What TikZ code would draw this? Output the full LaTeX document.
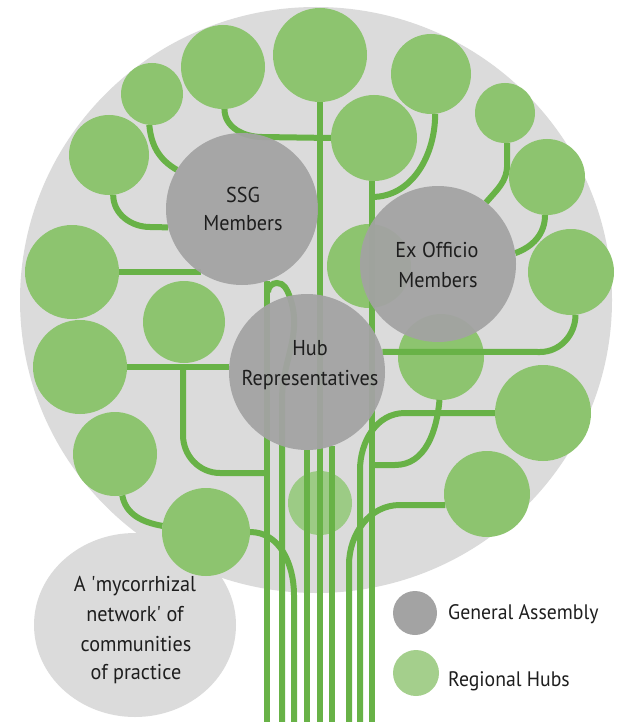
\documentclass[tikz,border=0pt]{standalone}
\usepackage{fontspec}
\setmainfont{PT Sans}
\newfontfamily\lblfont{PT Sans}[FakeStretch=0.94]
\definecolor{bgG}{HTML}{DBDBDB}
\definecolor{hubG}{HTML}{8DC46F}
\definecolor{hubL}{HTML}{9CCB85}
\definecolor{lineG}{HTML}{68B247}
\definecolor{gaG}{HTML}{A3A3A3}
\definecolor{legG}{HTML}{A4CF8C}
\definecolor{txt}{HTML}{1E1E1E}
\pgfdeclarelayer{bglayer}
\pgfdeclarelayer{stemlayer}
\pgfsetlayers{bglayer,stemlayer,main}
\begin{document}
\begin{tikzpicture}[x=1pt,y=-1pt,
  rh/.style={circle, fill=hubG, inner sep=0pt, outer sep=0pt, minimum size=#1},
  ga/.style={circle, fill=gaG, fill opacity=0.94, inner sep=0pt, outer sep=0pt, minimum size=#1},
  stem/.style={draw=lineG, line width=6pt},
  txtl/.style={text=txt, inner sep=0pt, anchor=base, font=\lblfont\fontsize{21.5}{24}\selectfont},
  lgl/.style={text=txt, inner sep=0pt, anchor=base west, font=\lblfont\fontsize{21}{24}\selectfont}]
\useasboundingbox (0,0) rectangle (616,722);
\clip (0,0) rectangle (616,722);
\coordinate (bot) at (0,735);
\begin{pgfonlayer}{bglayer}
\fill[bgG] (316,300) ellipse [x radius=296, y radius=293];
\fill[bgG] (135,625) ellipse [x radius=101, y radius=92];
\node[rh=86pt] (g16) at (441,357) {};
\node[rh=64pt, fill=hubL] (g19) at (320,503) {};
\node[rh=84pt] (g15) at (369,266) {};
\end{pgfonlayer}
% regional hub circles
\node[rh=62pt] (g1) at (152,94) {};
\node[rh=84pt] (g2) at (223,67) {};
\node[rh=80pt] (g3) at (109,155) {};
\node[rh=94pt] (g4) at (72,272) {};
\node[rh=82pt] (g5) at (184,322) {};
\node[rh=94pt] (g6) at (80,367) {};
\node[rh=84pt] (g7) at (115,454) {};
\node[rh=88pt] (g8) at (206,532) {};
\node[rh=94pt] (g9) at (320,55) {};
\node[rh=86pt] (g10) at (374,138) {};
\node[rh=80pt] (g11) at (431,74) {};
\node[rh=60pt] (g12) at (505,113) {};
\node[rh=76pt] (g13) at (547,177) {};
\node[rh=86pt] (g14) at (571,272) {};
\node[rh=96pt] (g17) at (543,413) {};
\node[rh=86pt] (g18) at (487,494) {};
% general assembly circles
\node[ga=152pt] (ssg) at (242,209) {};
\node[ga=156pt] (exo) at (438,264) {};
\node[ga=156pt] (hub) at (307,372) {};
% stems
\begin{pgfonlayer}{stemlayer}
\draw[stem] (g1.-95) to[out=-85,in=150] (ssg.149);
\draw[stem] (g3.-84) to[out=-90,in=180] (150,227) -- (ssg.194);
\draw[stem] (g4.east) -- (ssg.237 |- g4.east);
\draw[stem] (g2.-88) to[out=-90,in=180] (262,137) -- (g10.west);
\draw[stem] (g9.south) -- (g9.south |- bot);
\draw[stem] (g10.-93) -- (g10.-93 |- bot);
\draw[stem] (g11.-84) to[out=-90,in=0] (g10.-93 |- 0,197);
\draw[stem] (g12.-86) -- ++(0,22) to[out=-90,in=50] (exo.52);
\draw[stem] (g13.-93) to[out=-90,in=20] (exo.8);
\draw[stem] (g14.-84) to[out=-90,in=0] (540,352) -- (hub.15);
\draw[stem] (g16.-92) to[out=-95,in=0] (395,465) -- (g10.-93 |- 0,465);
\draw[stem] (g17.west) -- (405,413) to[out=180,in=90] (360,470) -- (360,735);
\draw[stem] (g18.195) -- (400,505) to[out=180,in=90] (349,565) -- (349,735);
\draw[stem] (g6.east) -- (hub.184 |- g6.east);
\coordinate (br) at (183,367);
\draw[stem] (br) -- (183,435) to[out=-90,in=180] (220,473) -- (ssg.-71 |- 0,473);
\draw[stem] (g7.-80) to[out=-80,in=170] (g8.172);
\draw[stem] (g8.east) to[out=0,in=90] (294,595) -- (294,735);
\draw[stem] (ssg.-71) -- (ssg.-71 |- bot);
\draw[stem] (268,292) to[out=90,in=180] (277,283) to[out=0,in=110] (hub.103) to[out=-70,in=90] (282,400) -- (282,735);
\draw[stem] (hub.south) -- (hub.south |- bot);
\draw[stem] (hub.-71) -- (hub.-71 |- bot);
\end{pgfonlayer}
% texts
\node[txtl] (t1) at (243,202) {SSG};
\node[txtl] (t2) at (243,230) {Members};
\node[txtl] (t3) at (437,257) {Ex Officio};
\node[txtl] (t4) at (438,287) {Members};
\node[txtl] (t5) at (310,355) {Hub};
\node[txtl] (t6) at (310,385) {Representatives};
\node[txtl] (m1) at (135,591) {A \textquotesingle mycorrhizal};
\node[txtl] (m2) at (135,621) {network\textquotesingle{} of};
\node[txtl] (m3) at (136,651) {communities};
\node[txtl] (m4) at (136,679) {of practice};
% legend
\node[circle, fill=gaG, inner sep=0pt, minimum size=44pt] (lga) at (415,613) {};
\node[circle, fill=legG, inner sep=0pt, minimum size=46pt] (lgh) at (416,673) {};
\node[lgl] (tga) at (448,619) {General Assembly};
\node[lgl] (tgh) at (448,686) {Regional Hubs};
\end{tikzpicture}
\end{document}
